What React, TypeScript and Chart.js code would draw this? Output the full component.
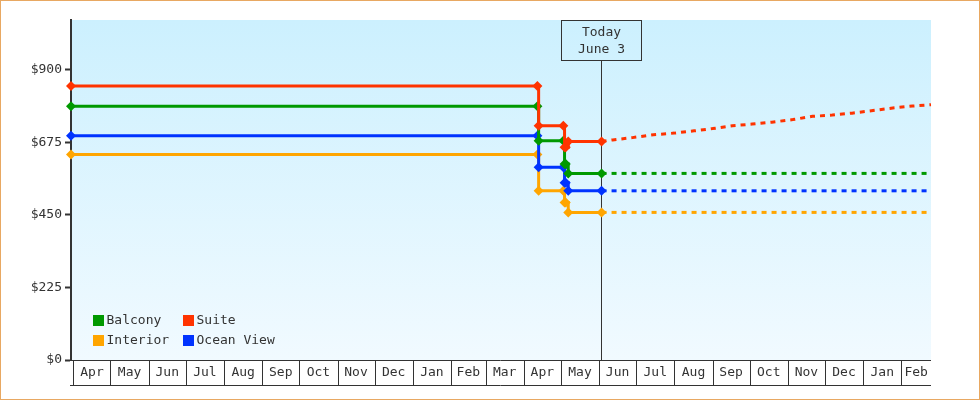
import React, { useEffect, useRef } from 'react';
import { Chart, registerables } from 'chart.js';

Chart.register(...registerables);

// ---------- data ----------
const AXIS_START = '2013-03-30';
const AXIS_END = '2015-02-25';
const FIRST_MONTH = '2013-04-01';
const TODAY = '2014-06-03';
const TODAY_LABEL = ['Today', 'June 3'];

const MONTH_LABELS = [
  'Apr', 'May', 'Jun', 'Jul', 'Aug', 'Sep', 'Oct', 'Nov', 'Dec', 'Jan', 'Feb', 'Mar',
  'Apr', 'May', 'Jun', 'Jul', 'Aug', 'Sep', 'Oct', 'Nov', 'Dec', 'Jan', 'Feb',
];

const Y_TICKS = [0, 225, 450, 675, 900];
const Y_MAX = 1055;

const SERIES_NAMES = ['Balcony', 'Suite', 'Interior', 'Ocean View'];
const SERIES_COLORS = ['#009900', '#ff3300', '#ffa500', '#0033ff'];

const HISTORY_DATES = [
  '2013-03-30', '2014-04-12', '2014-04-13', '2014-05-03',
  '2014-05-04', '2014-05-05', '2014-05-07', '2014-06-03',
];
const BALCONY_HISTORY = [787, 787, 680, 680, 608, 608, 579, 579];
const SUITE_HISTORY = [850, 850, 727, 727, 660, 660, 678, 678];
const INTERIOR_HISTORY = [638, 638, 525, 525, 489, 489, 458, 458];
const OCEAN_HISTORY = [696, 696, 598, 598, 550, 550, 525, 525];

const SUITE_FORECAST_DATES = [
  '2014-06-03', '2014-06-12', '2014-06-28', '2014-07-15', '2014-08-01', '2014-08-17',
  '2014-09-01', '2014-09-17', '2014-10-03', '2014-10-19', '2014-11-05', '2014-11-21',
  '2014-12-07', '2014-12-23', '2015-01-09', '2015-01-25', '2015-02-10', '2015-02-25',
];
const SUITE_FORECAST = [
  678, 683, 690, 699, 704, 711, 718, 727, 732, 738, 746, 756, 760, 766, 774, 782, 788, 792,
];
const FLAT_FORECAST_DATES = ['2014-06-03', '2015-02-25'];
const BALCONY_FORECAST = [579, 579];
const INTERIOR_FORECAST = [458, 458];
const OCEAN_FORECAST = [525, 525];

// ---------- helpers ----------
const FONT = '13px "DejaVu Sans Mono"';
const INK = '#333333';

function parse(s: string): [number, number, number] {
  const [y, m, d] = s.split('-').map(Number);
  return [y, m, d];
}
const BASE = (() => {
  const [y, m, d] = parse(FIRST_MONTH);
  return Date.UTC(y, m - 1, d);
})();
function dayOf(s: string): number {
  const [y, m, d] = parse(s);
  return (Date.UTC(y, m - 1, d) - BASE) / 86400000;
}
function monthStartDay(i: number): number {
  const [y, m] = parse(FIRST_MONTH);
  return (Date.UTC(y, m - 1 + i, 1) - BASE) / 86400000;
}
function pts(dates: string[], values: number[]) {
  return dates.map((d, i) => ({ x: dayOf(d), y: values[i] }));
}

const decorPlugin = {
  id: 'decor',
  beforeDraw(chart: any) {
    const { ctx, chartArea: a } = chart;
    const g = ctx.createLinearGradient(0, a.top, 0, a.bottom);
    g.addColorStop(0, '#ccf0fe');
    g.addColorStop(1, '#f1faff');
    ctx.save();
    ctx.fillStyle = g;
    ctx.fillRect(a.left, a.top, a.right - a.left, a.bottom - a.top);
    ctx.restore();
  },
  beforeDatasetsDraw(chart: any) {
    const { ctx, chartArea: a, scales } = chart;
    const lx = Math.round(scales.x.getPixelForValue(dayOf(TODAY))) - 0.5;
    ctx.save();
    ctx.strokeStyle = INK;
    ctx.lineWidth = 1;
    ctx.beginPath();
    ctx.moveTo(lx, a.top + 40);
    ctx.lineTo(lx, a.bottom);
    ctx.stroke();
    ctx.strokeRect(lx - 40, a.top + 0.5, 80, 40);
    ctx.fillStyle = INK;
    ctx.font = FONT;
    ctx.textAlign = 'center';
    ctx.textBaseline = 'middle';
    ctx.fillText(TODAY_LABEL[0], lx, a.top + 13);
    ctx.fillText(TODAY_LABEL[1], lx, a.top + 30);
    ctx.restore();
  },
  afterDraw(chart: any) {
    const { ctx, chartArea: a, scales, width, height } = chart;
    const xs = scales.x;
    ctx.save();
    // month boxes
    const top = a.bottom + 0.5;
    const bottom = a.bottom + 25.5;
    ctx.strokeStyle = INK;
    ctx.lineWidth = 1;
    ctx.beginPath();
    ctx.moveTo(a.left - 1, top);
    ctx.lineTo(a.right, top);
    ctx.moveTo(a.left - 1, bottom);
    ctx.lineTo(a.right, bottom);
    ctx.stroke();
    ctx.font = FONT;
    ctx.fillStyle = INK;
    ctx.textAlign = 'center';
    ctx.textBaseline = 'middle';
    MONTH_LABELS.forEach((label, i) => {
      const x0 = xs.getPixelForValue(monthStartDay(i));
      const x1 = Math.min(xs.getPixelForValue(monthStartDay(i + 1)), a.right);
      const sx = Math.round(x0) + 0.5;
      ctx.beginPath();
      ctx.moveTo(sx, top);
      ctx.lineTo(sx, bottom);
      ctx.stroke();
      ctx.fillText(label, (x0 + x1) / 2, (top + bottom) / 2);
    });
    // legend
    const order = [0, 1, 2, 3];
    order.forEach((idx, k) => {
      const col = k % 2;
      const row = Math.floor(k / 2);
      const x = a.left + 22 + col * 90;
      const y = a.bottom - 45 + row * 20;
      ctx.fillStyle = SERIES_COLORS[idx];
      ctx.fillRect(x, y, 11, 11);
      ctx.fillStyle = INK;
      ctx.textAlign = 'left';
      ctx.fillText(SERIES_NAMES[idx], x + 13.5, y + 6);
    });
    // outer frame
    ctx.strokeStyle = '#e8a862';
    ctx.lineWidth = 1;
    ctx.strokeRect(0.5, 0.5, width - 1, height - 1);
    ctx.restore();
  },
};

function solid(i: number, data: any[]) {
  return {
    label: SERIES_NAMES[i],
    data,
    borderColor: SERIES_COLORS[i],
    backgroundColor: SERIES_COLORS[i],
    borderWidth: 3,
    stepped: true,
    pointStyle: 'rectRot',
    pointRadius: 5,
    pointBorderWidth: 0,
    pointBackgroundColor: SERIES_COLORS[i],
    clip: false,
  };
}
function dashed(i: number, data: any[]) {
  return {
    label: SERIES_NAMES[i] + ' forecast',
    data,
    borderColor: SERIES_COLORS[i],
    borderWidth: 3,
    borderDash: [5, 5],
    pointRadius: 0,
    tension: 0,
    clip: false,
  };
}

export default function App() {
  const ref = useRef<HTMLCanvasElement | null>(null);
  useEffect(() => {
    if (!ref.current) return;
    const chart = new Chart(ref.current, {
      type: 'line',
      data: {
        datasets: [
          solid(1, pts(HISTORY_DATES, SUITE_HISTORY)),
          solid(0, pts(HISTORY_DATES, BALCONY_HISTORY)),
          solid(3, pts(HISTORY_DATES, OCEAN_HISTORY)),
          solid(2, pts(HISTORY_DATES, INTERIOR_HISTORY)),
          dashed(1, pts(SUITE_FORECAST_DATES, SUITE_FORECAST)),
          dashed(0, pts(FLAT_FORECAST_DATES, BALCONY_FORECAST)),
          dashed(3, pts(FLAT_FORECAST_DATES, OCEAN_FORECAST)),
          dashed(2, pts(FLAT_FORECAST_DATES, INTERIOR_FORECAST)),
        ] as any,
      },
      options: {
        responsive: false,
        animation: false,
        devicePixelRatio: 1,
        events: [],
        layout: { padding: { top: 20, right: 49, bottom: 40, left: 0 } },
        plugins: { legend: { display: false }, tooltip: { enabled: false } },
        scales: {
          x: {
            type: 'linear',
            display: false,
            min: dayOf(AXIS_START),
            max: dayOf(AXIS_END),
          },
          y: {
            type: 'linear',
            min: 0,
            max: Y_MAX,
            afterFit: (s: any) => { s.width = 71; },
            afterBuildTicks: (s: any) => { s.ticks = Y_TICKS.map((v) => ({ value: v })); },
            ticks: {
              color: INK,
              font: { family: 'DejaVu Sans Mono', size: 13 },
              padding: 3,
              callback: (v: any) => '$' + v,
            },
            grid: {
              drawOnChartArea: false,
              drawTicks: true,
              tickLength: 6,
              tickWidth: 2,
              tickColor: INK,
            },
            border: { display: true, color: INK, width: 2 },
          },
        },
      } as any,
      plugins: [decorPlugin],
    });
    return () => chart.destroy();
  }, []);
  return (
    <div style={{ position: 'fixed', left: 0, top: 0, width: 980, height: 400, background: '#fff' }}>
      <canvas ref={ref} width={980} height={400} style={{ display: 'block' }} />
    </div>
  );
}
